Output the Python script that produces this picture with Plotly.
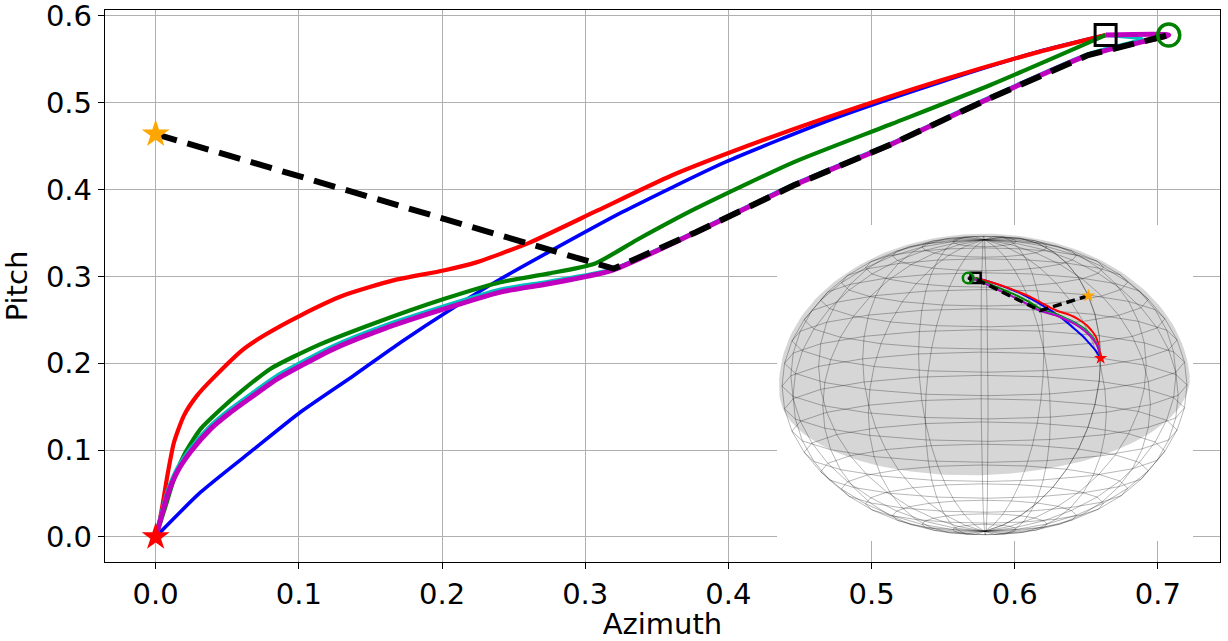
import numpy as np
import plotly.graph_objects as go

# trajectories (azimuth, pitch)
blue_az = [0, 0.0314, 0.0686, 0.101, 0.1384, 0.171, 0.208, 0.2408, 0.2744, 0.3258, 0.3978, 0.4732, 0.5485, 0.617, 0.6635]
blue_pitch = [0, 0.0515, 0.101, 0.1436, 0.186, 0.224, 0.264, 0.297, 0.328, 0.374, 0.4317, 0.4816, 0.524, 0.559, 0.578]

red_az = [0, 0.0007, 0.0047, 0.0082, 0.0128, 0.0198, 0.029, 0.0396, 0.0616, 0.0756, 0.101, 0.131, 0.166,
          0.201, 0.2245, 0.2408, 0.262, 0.3087, 0.360, 0.4047, 0.4664, 0.5487, 0.617, 0.6635]
red_pitch = [0, 0.0015, 0.036, 0.071, 0.109, 0.140, 0.163, 0.182, 0.2166, 0.232, 0.255, 0.278, 0.2955,
             0.3068, 0.3165, 0.326, 0.3395, 0.376, 0.416, 0.445, 0.4816, 0.526, 0.5587, 0.578]

green_az = [0, 0.007, 0.0128, 0.021, 0.0314, 0.0454, 0.0593, 0.080, 0.1128, 0.1547, 0.2012, 0.2408, 0.275,
            0.307, 0.336, 0.377, 0.4458, 0.5143, 0.583, 0.6635]
green_pitch = [0, 0.036, 0.067, 0.098, 0.1244, 0.147, 0.167, 0.1935, 0.2204, 0.2473, 0.274, 0.2934, 0.3035,
               0.315, 0.342, 0.378, 0.4317, 0.4758, 0.5205, 0.578]

cyan_az = [0, 0.0023, 0.0082, 0.0151, 0.0244, 0.0384, 0.0523, 0.0686, 0.085, 0.1244, 0.1593, 0.1942, 0.2408,
           0.2744, 0.3187, 0.377, 0.4458, 0.5143, 0.583, 0.6514, 0.689, 0.6635]
cyan_pitch = [0, 0.016, 0.052, 0.079, 0.102, 0.128, 0.1475, 0.167, 0.186, 0.220, 0.243, 0.262, 0.285,
              0.294, 0.308, 0.3515, 0.406, 0.4535, 0.5065, 0.556, 0.5735, 0.578]

magenta_az = [0, 0.0023, 0.0082, 0.0151, 0.0244, 0.0384, 0.0523, 0.0686, 0.085, 0.1244, 0.1593, 0.1942,
              0.2408, 0.2744, 0.3187, 0.377, 0.4458, 0.5143, 0.583, 0.6514, 0.7076, 0.6635]
magenta_pitch = [0, 0.0131, 0.048, 0.075, 0.098, 0.1244, 0.1436, 0.163, 0.182, 0.2166, 0.2396, 0.2588,
                 0.282, 0.2915, 0.307, 0.3506, 0.405, 0.4526, 0.5055, 0.555, 0.578, 0.578]

dash_az = [0, 0.3198, 0.377, 0.4458, 0.5143, 0.583, 0.6514, 0.7076]
dash_pitch = [0.464, 0.309, 0.3506, 0.405, 0.4526, 0.5055, 0.555, 0.578]

start = (0.0, 0.0)        # red star
initial = (0.0, 0.464)    # orange star
end_square = (0.6635, 0.578)
end_circle = (0.7076, 0.578)

x_ticks = [0.0, 0.1, 0.2, 0.3, 0.4, 0.5, 0.6, 0.7]
y_ticks = [0.0, 0.1, 0.2, 0.3, 0.4, 0.5, 0.6]

# view used for the sphere inset
VIEW_AZIM = np.radians(-145)
VIEW_ELEV = np.radians(9.5)
Z_SQUASH = 0.73


def project(az, pitch):
    az = np.asarray(az, dtype=float)
    p = np.asarray(pitch, dtype=float)
    X = np.cos(p) * np.cos(az)
    Y = np.cos(p) * np.sin(az)
    Z = np.sin(p) * Z_SQUASH
    u = -X * np.sin(VIEW_AZIM) + Y * np.cos(VIEW_AZIM)
    w = -(X * np.cos(VIEW_AZIM) + Y * np.sin(VIEW_AZIM)) * np.sin(VIEW_ELEV) + Z * np.cos(VIEW_ELEV)
    return u, w


FONT = "DejaVu Sans"
fig = go.Figure()

series = [
    (blue_az, blue_pitch, "#0000ff", 3.6),
    (red_az, red_pitch, "#ff0000", 4.2),
    (green_az, green_pitch, "#008000", 4.2),
    (cyan_az, cyan_pitch, "#00bfbf", 4),
    (magenta_az, magenta_pitch, "#bf00bf", 5),
]
for xs, ys, col, lw in series:
    fig.add_trace(go.Scatter(x=xs, y=ys, mode="lines",
                             line=dict(color=col, width=lw, shape="spline", smoothing=0.6)))
fig.add_trace(go.Scatter(x=dash_az, y=dash_pitch, mode="lines",
                         line=dict(color="black", width=6, dash="22px,11px")))

markers = [
    (initial, "star", "#ffa500", 21, None),
    (start, "star", "#ff0000", 21, None),
    (end_square, "square-open", "black", 21, 3),
    (end_circle, "circle-open", "#008000", 22, 3.5),
]
for (mx, my), sym, col, sz, lw in markers:
    fig.add_trace(go.Scatter(x=[mx], y=[my], mode="markers",
                             marker=dict(symbol=sym, color=col, size=sz,
                                         line=dict(color=col, width=lw if lw else 0))))

# ---- inset: trajectories on a sphere ----
ix0, ix1, iy0, iy1 = -1.0247, 1.0296, -0.7679, 0.7926
ia = dict(xaxis="x2", yaxis="y2")

fig.add_trace(go.Scatter(x=[ix0, ix1, ix1, ix0, ix0], y=[iy0, iy0, iy1, iy1, iy0], mode="lines",
                         fill="toself", fillcolor="white", line=dict(width=0), **ia))

# shaded hemisphere (screen space, before vertical squash)
ratio = np.sqrt((Z_SQUASH * np.cos(VIEW_ELEV)) ** 2 + np.sin(VIEW_ELEV) ** 2)
n = np.array([-0.054, 0.806, 0.589])
n = n / np.linalg.norm(n)
nuw = np.hypot(n[0], n[1])
T = np.array([n[1], -n[0]]) / nuw
B = -abs(n[2]) * np.array([n[0], n[1]]) / nuw
a0 = np.arctan2(T[1], T[0])
arc = np.linspace(a0, a0 + np.pi, 90)
t = np.linspace(np.pi, 0, 90)
gu = np.concatenate([np.cos(arc), np.cos(t) * T[0] + np.sin(t) * B[0]]) * 1.015
gw = np.concatenate([np.sin(arc), np.cos(t) * T[1] + np.sin(t) * B[1]]) * ratio * 1.015
fig.add_trace(go.Scatter(x=gu, y=gw, mode="lines", fill="toself", fillcolor="#d6d6d6",
                         line=dict(width=0), **ia))

# wireframe
lon = np.linspace(0, 2 * np.pi, 21)
lat = np.linspace(-np.pi / 2, np.pi / 2, 21)
wx, wy = [], []
for lo in lon:
    u, w = project(np.full_like(lat, lo), lat)
    wx += list(u) + [None]
    wy += list(w) + [None]
for la in lat[1:-1]:
    u, w = project(lon, np.full_like(lon, la))
    wx += list(u) + [None]
    wy += list(w) + [None]
fig.add_trace(go.Scatter(x=wx, y=wy, mode="lines", line=dict(color="rgba(0,0,0,0.38)", width=0.75), **ia))

for xs, ys, col, lw in series:
    u, w = project(xs, ys)
    fig.add_trace(go.Scatter(x=u, y=w, mode="lines",
                             line=dict(color=col, width=2, shape="spline", smoothing=0.6), **ia))
u, w = project(dash_az, dash_pitch)
fig.add_trace(go.Scatter(x=u, y=w, mode="lines", line=dict(color="black", width=3.5, dash="9px,5px"), **ia))
for (mx, my), sym, col, sz, lw in markers:
    u, w = project([mx], [my])
    fig.add_trace(go.Scatter(x=u, y=w, mode="markers",
                             marker=dict(symbol=sym, color=col, size=sz * 0.48,
                                         line=dict(color=col, width=2.5 if lw else 0)), **ia))

axis_common = dict(showline=True, linecolor="black", linewidth=1.3, mirror=True,
                   ticks="outside", ticklen=6, tickwidth=1.3, tickcolor="black",
                   showgrid=True, gridcolor="#b0b0b0", gridwidth=1.4, zeroline=False,
                   automargin=False, ticklabeloverflow="allow",
                   tickfont=dict(family=FONT, size=29, color="black"))

fig.update_layout(
    width=1228, height=641,
    margin=dict(l=105, r=8, t=10, b=79),
    paper_bgcolor="white", plot_bgcolor="white",
    showlegend=False,
    xaxis=dict(range=[-0.0354, 0.7434], tickvals=x_ticks, tickformat=".1f",
               title=dict(text="Azimuth", font=dict(family=FONT, size=29, color="black"), standoff=4),
               **axis_common),
    yaxis=dict(range=[-0.0289, 0.6069], tickvals=y_ticks, tickformat=".1f",
               title=dict(text="Pitch", font=dict(family=FONT, size=29, color="black"), standoff=10),
               **axis_common),
    xaxis2=dict(domain=[0.6027, 0.9758], range=[ix0, ix1], visible=False, anchor="y2"),
    yaxis2=dict(domain=[0.0380, 0.6105], range=[iy0, iy1], visible=False, anchor="x2"),
)

fig.write_html("out.html", config={"displayModeBar": False},
               post_script="document.body.style.margin = '0px';")
